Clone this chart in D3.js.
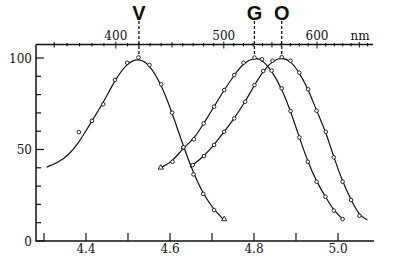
<!doctype html>
<html>
<head>
  <meta charset="utf-8">
  <title>V G O spectra</title>
  <script src="https://cdnjs.cloudflare.com/ajax/libs/d3/7.8.5/d3.min.js"></script>
  <style>
    body { margin: 0; background: #fff; }
    svg text.num { font-family: 'DejaVu Serif', 'Liberation Serif', serif; }
  </style>
</head>
<body>
<div id="chart"></div>
<script>
  // bottom axis values, left axis values (relative response %)
  const xTicks = [4.3, 4.4, 4.5, 4.6, 4.7, 4.8, 4.9, 5.0];
  const xLabels = ["4.4", "4.6", "4.8", "5.0"];
  const yTicks = [0, 10, 20, 30, 40, 50, 60, 70, 80, 90, 100];
  const yLabels = [0, 50, 100];

  // top axis in nm and where 400 / 600 nm sit on the bottom scale
  const nmAnchors = [400, 600];
  const nmAnchorPos = [4.471, 4.950];
  const nmLabels = [400, 500, 600];

  // peaks
  const peakNames = ["V", "G", "O"];
  const peakPos = [4.526, 4.801, 4.866];

  // V curve (drawn line) and measured points
  const vLine = [[4.306, 40.3], [4.334, 43], [4.358, 46.8], [4.382, 53.5], [4.402, 61],
    [4.414, 65.6], [4.441, 75.5], [4.469, 88], [4.498, 97.4], [4.526, 100],
    [4.552, 96.2], [4.579, 85.6], [4.605, 70.1], [4.630, 53], [4.655, 37.5],
    [4.679, 25.7], [4.705, 16.9], [4.729, 11.5]];
  const vPoints = [[4.383, 59.5], [4.414, 65.6], [4.441, 74.7], [4.469, 88], [4.498, 97.4],
    [4.525, 100.3], [4.551, 96.2], [4.579, 85.6], [4.605, 70.1], [4.631, 50.8],
    [4.656, 36.4], [4.679, 25.7], [4.705, 16.9]];
  const vEnd = [[4.729, 11.9]];

  // G curve points
  const gPoints = [[4.578, 40.1], [4.606, 43.3], [4.632, 51.2], [4.657, 55.6], [4.680, 64.2],
    [4.705, 73.4], [4.729, 82.5], [4.753, 90.7], [4.775, 97.4], [4.801, 100.2],
    [4.819, 99.3], [4.842, 93.1], [4.866, 83.4], [4.887, 71], [4.908, 56.6],
    [4.928, 43.3], [4.949, 32.4], [4.970, 24.2], [4.990, 16.6], [5.011, 12]];

  // O curve points, line runs a little past both ends
  const oPoints = [[4.654, 41.5], [4.681, 46.4], [4.705, 52.5], [4.729, 59.7], [4.753, 67],
    [4.779, 76.1], [4.801, 85.2], [4.822, 92.9], [4.844, 98.5], [4.866, 100.4],
    [4.887, 98.5], [4.908, 92], [4.929, 82.9], [4.949, 71.2], [4.971, 59.7],
    [4.990, 45.7], [5.011, 32.4], [5.031, 22.4], [5.051, 13.8]];
  const oStart = [4.648, 40.4];
  const oEnd = [5.070, 11.5];

  const W = 396, H = 259;
  const svg = d3.select('#chart').append('svg')
    .attr('width', W).attr('height', H);

  const x = d3.scaleLinear().domain([4.3, 5.0]).range([44, 338]);
  const y = d3.scaleLinear().domain([0, 100]).range([241, 58]);
  const x0 = x(4.281), x1 = x(5.086);
  const yTop = 44.5;

  // top wavelength scale (slightly compressed toward long waves)
  const nm = d3.scalePow().exponent(0.27).domain(nmAnchors).range(nmAnchorPos.map(x));

  const ax = svg.append('g').attr('stroke', '#111').attr('fill', 'none');

  // frame: left + bottom + top
  ax.append('path').attr('stroke-width', 1.5)
    .attr('d', `M${x0},${yTop}V${y(0)}H${x1}`);
  ax.append('path').attr('stroke-width', 1.3)
    .attr('d', `M${x0},${yTop}H${x1 - 1}`);

  // y ticks (inside)
  ax.selectAll('line.yt').data(yTicks).join('line')
    .attr('x1', x0).attr('x2', d => x0 + (d % 50 === 0 ? 8 : 5))
    .attr('y1', d => y(d)).attr('y2', d => y(d))
    .attr('stroke-width', 1.2);

  // bottom ticks (inside)
  ax.selectAll('line.xt').data(xTicks).join('line')
    .attr('x1', d => x(d)).attr('x2', d => x(d))
    .attr('y1', y(0)).attr('y2', y(0) - 8)
    .attr('stroke-width', 1.2);

  // top nm ticks every 10
  const nmTicks = d3.range(350, 661, 10);
  ax.selectAll('line.nt').data(nmTicks).join('line')
    .attr('x1', d => nm(d)).attr('x2', d => nm(d))
    .attr('y1', d => yTop - (d % 100 === 0 ? 3 : d % 50 === 0 ? 2.5 : 1.5))
    .attr('y2', d => yTop + (d % 100 === 0 ? 4 : d % 50 === 0 ? 3 : 2))
    .attr('stroke-width', 1);

  // labels
  const num = sel => sel.attr('class', 'num').attr('font-size', 12).attr('fill', '#111');

  svg.selectAll('text.yl').data(yLabels).join('text')
    .call(num)
    .attr('x', 32).attr('y', d => y(d) + 4.5)
    .attr('text-anchor', 'end')
    .text(d => d);

  svg.selectAll('text.xl').data(xLabels).join('text')
    .call(num)
    .attr('x', d => x(+d)).attr('y', 253)
    .attr('text-anchor', 'middle')
    .text(d => d);

  svg.selectAll('text.nl').data(nmLabels).join('text')
    .call(num)
    .attr('x', d => nm(d)).attr('y', 40)
    .attr('text-anchor', 'middle')
    .text(d => d);
  svg.append('text').call(num)
    .attr('x', 360).attr('y', 40).attr('text-anchor', 'middle').text('nm');

  // peak markers: dashed line + letter
  const pk = svg.selectAll('g.pk').data(peakPos).join('g');
  pk.append('line')
    .attr('x1', d => x(d)).attr('x2', d => x(d))
    .attr('y1', 21).attr('y2', y(100))
    .attr('stroke', '#111').attr('stroke-width', 1.3)
    .attr('stroke-dasharray', '3,2');
  pk.append('text')
    .style('font-family', 'Liberation Sans, Arial, sans-serif')
    .attr('font-weight', 'bold').attr('font-size', 20).attr('fill', '#111')
    .attr('x', d => x(d)).attr('y', 20)
    .attr('text-anchor', 'middle')
    .text((d, i) => peakNames[i]);

  // curves
  const line = d3.line()
    .x(d => x(d[0])).y(d => y(d[1]))
    .curve(d3.curveBasis);

  const curves = [vLine, gPoints, [oStart, ...oPoints, oEnd]];
  svg.selectAll('path.curve').data(curves).join('path')
    .attr('class', 'curve')
    .attr('d', line)
    .attr('fill', 'none').attr('stroke', '#111').attr('stroke-width', 1.2);

  // measured points
  const pts = [...vPoints, ...gPoints.slice(1), ...oPoints];
  svg.selectAll('circle.pt').data(pts).join('circle')
    .attr('class', 'pt')
    .attr('cx', d => x(d[0])).attr('cy', d => y(d[1]))
    .attr('r', 1.8)
    .attr('fill', '#fff').attr('stroke', '#111').attr('stroke-width', 0.9);

  // triangles (end of V, start of G)
  const tri = d3.symbol().type(d3.symbolTriangle).size(12);
  svg.selectAll('path.tri').data([...vEnd, gPoints[0]]).join('path')
    .attr('class', 'tri')
    .attr('transform', d => `translate(${x(d[0])},${y(d[1])})`)
    .attr('d', tri)
    .attr('fill', '#fff').attr('stroke', '#111').attr('stroke-width', 0.9);
</script>
</body>
</html>
